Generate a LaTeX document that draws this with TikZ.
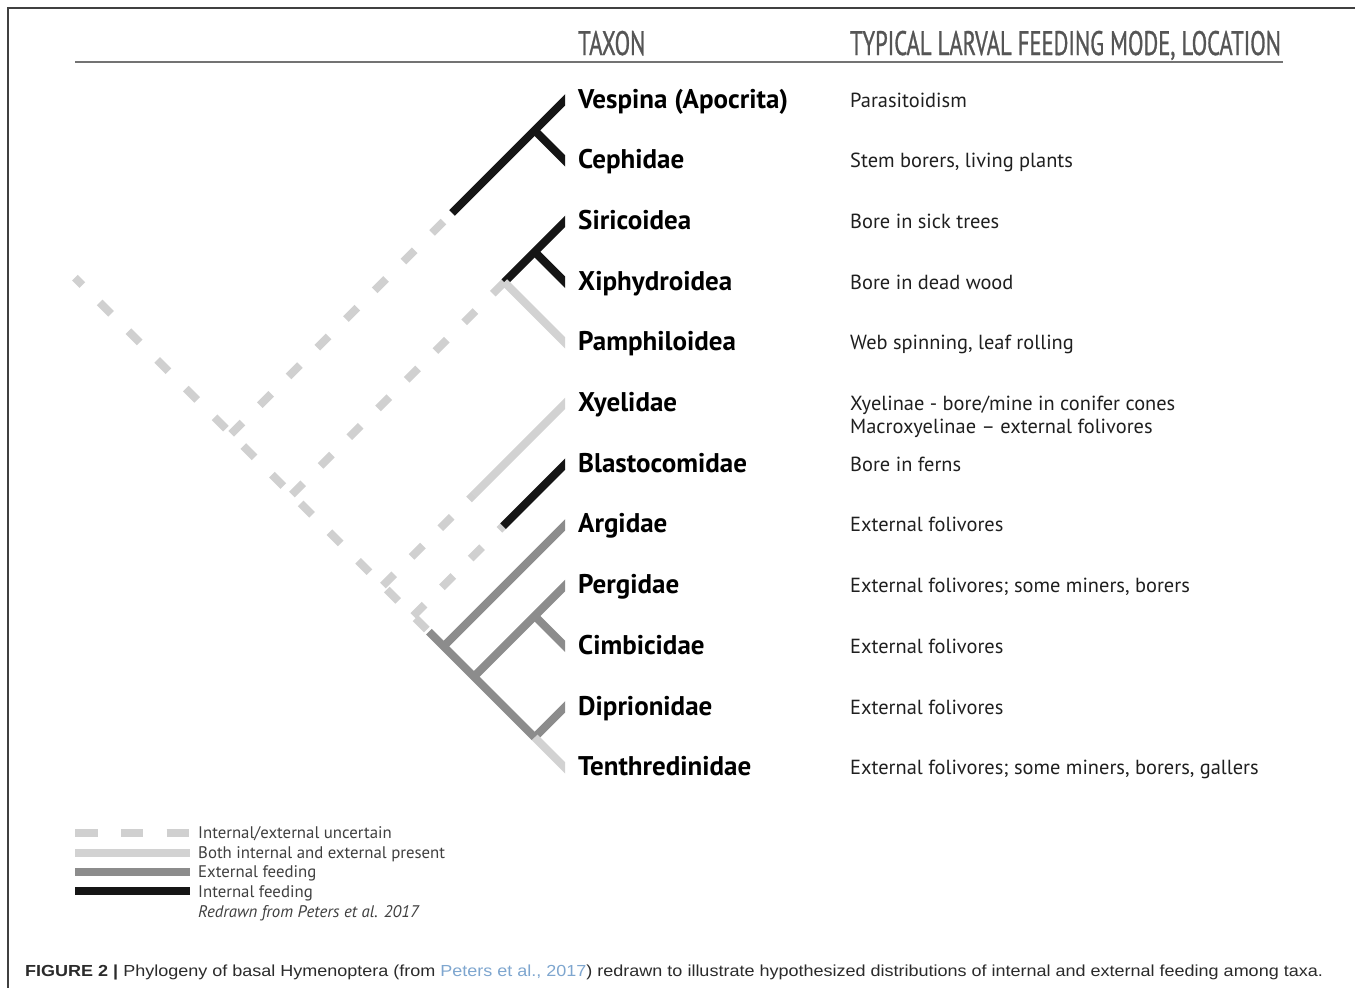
\documentclass[tikz,border=0pt]{standalone}
\usepackage{fontspec}
\setmainfont{PT Sans}
\newfontfamily\headfont[FakeStretch=0.665,FakeBold=0.8]{PT Sans}
\newfontfamily\capfont[FakeStretch=1.125]{Liberation Sans}
\definecolor{inkblack}{HTML}{151515}
\definecolor{extgrey}{HTML}{8C8C8C}
\definecolor{bothgrey}{HTML}{D2D2D2}
\definecolor{uncgrey}{HTML}{D0D0D0}
\definecolor{headgrey}{HTML}{555555}
\definecolor{capblue}{HTML}{7EA6CF}
\definecolor{captext}{HTML}{2B2B2B}
\begin{document}
\begin{tikzpicture}[x=1pt,y=-1pt,
 branch/.style={line width=8pt},
 internal/.style={branch,draw=inkblack},
 external/.style={branch,draw=extgrey},
 both/.style={branch,draw=bothgrey},
 uncertain/.style={branch,draw=uncgrey,dash pattern=on 16pt off 24.6pt},
 taxon/.style={anchor=base west,inner sep=0pt,font=\fontsize{27}{30}\selectfont\bfseries,text=black},
 mode/.style={anchor=base west,inner sep=0pt,font=\fontsize{20.4}{22}\selectfont,text=black!88},
 header/.style={anchor=base west,inner sep=0pt,font=\headfont\fontsize{34}{36}\selectfont,text=headgrey},
 legtext/.style={anchor=base west,inner sep=0pt,font=\fontsize{16.8}{18}\selectfont,text=black!75},
 legbar/.style={line width=8pt}
]
\useasboundingbox (0,0) rectangle (1355,988);
\fill[white] (0,0) rectangle (1355,988);
% frame
\coordinate (frBL) at (8,988);
\coordinate (frTL) at (8,8);
\coordinate (frTR) at (1355,8);
\draw[line width=1.5pt,black!75] (frBL) -- (frTL) -- (frTR);
% headers
\node[header] (hTaxon) at (578,55) {TAXON};
\node[header] (hMode) at (850,55) {TYPICAL LARVAL FEEDING MODE, LOCATION};
\coordinate (ruleL) at (75,62);
\coordinate (ruleR) at (1283,62);
\draw[line width=2pt,black!55] (ruleL) -- (ruleR);
% labels
\foreach \i/\t/\m in {0/{Vespina (Apocrita)}/{Parasitoidism},
  1/{Cephidae}/{Stem borers, living plants},
  2/{Siricoidea}/{Bore in sick trees},
  3/{Xiphydroidea}/{Bore in dead wood},
  4/{Pamphiloidea}/{Web spinning, leaf rolling},
  5/{Xyelidae}/{Xyelinae - bore/mine in conifer cones},
  6/{Blastocomidae}/{Bore in ferns},
  7/{Argidae}/{External folivores},
  8/{Pergidae}/{External folivores; some miners, borers},
  9/{Cimbicidae}/{External folivores},
  10/{Diprionidae}/{External folivores},
  11/{Tenthredinidae}/{External folivores; some miners, borers, gallers}}{
  \node[taxon] (lab\i) at (578,{108+60.7*\i}) {\t};
  \node[mode] (mode\i) at (850,{107+60.7*\i}) {\m};
}
\node[mode] (mode5b) at (850,433) {Macroxyelinae -- external folivores};
% tree
\begin{scope}
\clip (0,0) rectangle (565,988);
\coordinate (stem) at (75,277.7);
\coordinate (root) at (231.15,433.85);
\coordinate (nA) at (534.65,130.35);
\coordinate (nB) at (291.85,494.55);
\coordinate (nC) at (504.3,282.1);
\coordinate (nD) at (534.65,251.75);
\coordinate (nE) at (382.9,585.6);
\coordinate (nF) at (413.25,615.95);
\coordinate (nG) at (443.6,646.3);
\coordinate (nH) at (473.95,676.65);
\coordinate (nI) at (534.65,615.95);
\coordinate (nJ) at (534.65,737.35);
\coordinate (gS) at (429,631.7);
\coordinate (bA) at (452,213);
\coordinate (bX) at (474,494.5);
\coordinate (bB) at (503,526.2);
\coordinate (tVesp) at (571,94);
\coordinate (tCeph) at (571,166.7);
\coordinate (tSir) at (571,215.4);
\coordinate (tXiph) at (571,288.1);
\coordinate (tPamph) at (571,348.8);
\coordinate (tXyel) at (571,397.5);
\coordinate (tBlast) at (571,458.2);
\coordinate (tArg) at (571,518.9);
\coordinate (tPerg) at (571,579.6);
\coordinate (tCimb) at (571,652.3);
\coordinate (tDipr) at (571,701);
\coordinate (tTenth) at (571,773.7);
\draw[uncertain,dash phase=5.6pt] (stem) -- (root) -- (nB) -- (nE) -- (nF) -- (gS);
\draw[uncertain] (root) -- (bA);
\draw[internal] (bA) -- (tVesp);
\draw[internal] (nA) -- (tCeph);
\draw[uncertain] (nB) -- (nC);
\draw[internal] (nC) -- (tSir);
\draw[internal] (nD) -- (tXiph);
\draw[both] (nC) -- (tPamph);
\draw[uncertain] (nE) -- (bX);
\draw[both] (bX) -- (tXyel);
\draw[uncertain] (nF) -- (bB);
\draw[internal] (bB) -- (tBlast);
\draw[external] (gS) -- (nJ);
\draw[external] (nG) -- (tArg);
\draw[external] (nH) -- (tPerg);
\draw[external] (nI) -- (tCimb);
\draw[external] (nJ) -- (tDipr);
\draw[both] (nJ) -- (tTenth);
\end{scope}
% legend
\coordinate (l1a) at (75,833); \coordinate (l1b) at (190,833);
\coordinate (l2a) at (75,853); \coordinate (l2b) at (190,853);
\coordinate (l3a) at (75,872); \coordinate (l3b) at (190,872);
\coordinate (l4a) at (75,891); \coordinate (l4b) at (190,891);
\draw[legbar,uncgrey,dash pattern=on 22.5pt off 23.25pt] (l1a) -- (l1b);
\draw[legbar,bothgrey] (l2a) -- (l2b);
\draw[legbar,extgrey] (l3a) -- (l3b);
\draw[legbar,inkblack] (l4a) -- (l4b);
\node[legtext] (lt1) at (198,838) {Internal/external uncertain};
\node[legtext] (lt2) at (198,858) {Both internal and external present};
\node[legtext] (lt3) at (198,877) {External feeding};
\node[legtext] (lt4) at (198,897) {Internal feeding};
\node[legtext,font=\fontsize{16.8}{18}\selectfont\itshape] (lt5) at (198,917) {Redrawn from Peters et al. 2017};
% caption
\node[anchor=base west,inner sep=0pt,font=\capfont\fontsize{16}{18}\selectfont,text=captext] (cap) at (25,976)
 {\textbf{FIGURE 2 |} Phylogeny of basal Hymenoptera (from \textcolor{capblue}{Peters et al., 2017}) redrawn to illustrate hypothesized distributions of internal and external feeding among taxa.};
\end{tikzpicture}
\end{document}
